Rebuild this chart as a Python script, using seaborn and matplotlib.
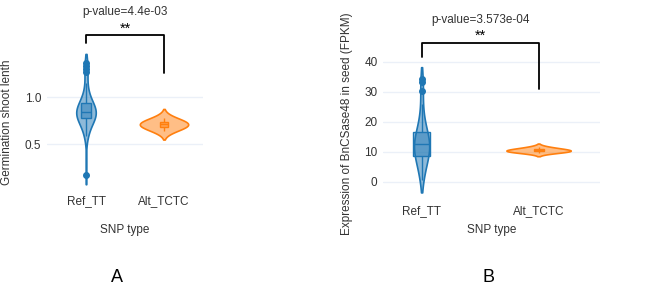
import pandas as pd
import seaborn as sns
import matplotlib.pyplot as plt
import matplotlib.transforms as mtransforms
from matplotlib.colors import to_rgba

groups = ["Ref_TT", "Alt_TCTC"]
colors = ["#1f77b4", "#ff7f0e"]

# panel A - germination shoot length
shoot_ref = [0.17, 0.58, 0.61, 0.64, 0.68, 0.70, 0.72, 0.74, 0.76, 0.77, 0.78,
             0.78, 0.79, 0.80, 0.80, 0.81, 0.81, 0.82, 0.82, 0.83, 0.83, 0.84,
             0.84, 0.85, 0.85, 0.86, 0.87, 0.88, 0.89, 0.90, 0.91, 0.92, 0.93,
             0.94, 0.95, 0.97, 1.00, 1.04, 1.10, 1.15, 1.27, 1.30, 1.33, 1.36]
shoot_alt = [0.64, 0.67, 0.70, 0.71, 0.72, 0.74, 0.78]

# panel B - expression in seed (FPKM)
expr_ref = [0.5, 2, 3.5, 5, 6, 7, 7.5, 8, 8.5, 9, 9.5, 10, 10.5, 11, 11.5, 12,
            12, 12.5, 13, 13.5, 14, 14.5, 15, 15.5, 16, 16.5, 17, 18, 19.5, 21,
            23, 26, 30.3, 33.2, 34.3]
expr_alt = [9.8, 10.1, 10.3, 10.5, 10.7, 11.0, 11.6]

pvals = ["p-value=4.4e-03", "p-value=3.573e-04"]
stars = "**"
ylabels = ["Germination shoot lenth", "Expression of BnCSase48 in seed (FPKM)"]
yticks_a = [0.5, 1.0]
yticks_b = [0, 10, 20, 30, 40]

sns.set_theme(style="white")
plt.rcParams["font.family"] = ["Liberation Sans", "DejaVu Sans"]
txt = "#333333"


def draw_panel(ax, ref, alt, vwidths, bwidths, bw_adj, cuts):
    df = pd.DataFrame({"snp": [groups[0]] * len(ref) + [groups[1]] * len(alt),
                       "val": list(ref) + list(alt)})
    for i, g in enumerate(groups):
        c = colors[i]
        sub = df[df.snp == g]
        sns.violinplot(data=sub, x="snp", y="val", order=groups, color=c,
                       linecolor=c, width=vwidths[i], density_norm="width",
                       cut=cuts[i], bw_adjust=bw_adj[i], inner=None,
                       linewidth=1.2, saturation=1, ax=ax)
        ax.collections[-1].set_facecolor(to_rgba(c, 0.5))
        n0 = len(ax.patches)
        sns.boxplot(data=sub, x="snp", y="val", order=groups, width=bwidths[i],
                    color=c, linecolor=c, linewidth=1, showcaps=False,
                    fliersize=4, saturation=1,
                    flierprops=dict(marker="o", markerfacecolor=c,
                                    markeredgecolor=c), ax=ax)
        for p in ax.patches[n0:]:
            p.set_facecolor(to_rgba(c, 0.45))
            p.set_edgecolor(c)


def style_axis(ax, yticks, ylabel):
    sns.despine(ax=ax, left=True, bottom=True)
    ax.set_yticks(yticks)
    ax.grid(axis="y", color="#EBF0F8", lw=1)
    ax.grid(axis="x", visible=False)
    ax.tick_params(length=0, labelsize=8.5, labelcolor=txt, pad=4)
    ax.set_xlabel("SNP type", fontsize=8.5, color=txt)
    ax.set_ylabel(ylabel, fontsize=8.5, color=txt)


def bracket(ax, ptxt, y_left, y_right, y_top, y_star, y_p):
    tr = mtransforms.blended_transform_factory(ax.transData, ax.transAxes)
    ax.plot([0, 0, 1, 1], [y_left, y_top, y_top, y_right], transform=tr,
            color="black", lw=1.3, clip_on=False)
    ax.text(0.5, y_star, stars, transform=tr, ha="center", va="baseline",
            fontsize=10.5, color="black")
    ax.text(0.5, y_p, ptxt, transform=tr, ha="center", va="center",
            fontsize=8.5, color=txt)


W, H = 669, 286
fig = plt.figure(figsize=(W / 100, H / 100), dpi=100)
axA = fig.add_axes([47 / W, 1 - 190 / H, (203 - 47) / W, (190 - 45) / H])
axB = fig.add_axes([383 / W, 1 - 200 / H, (600 - 383) / W, (200 - 40) / H])

draw_panel(axA, shoot_ref, shoot_alt, [0.25, 0.62], [0.13, 0.115],
           [1.0, 1.5], [1, 2])
style_axis(axA, yticks_a, ylabels[0])
axA.set_xlim(-0.5, 1.5)
axA.set_ylim(0.011, 1.553)
axA.xaxis.set_label_coords(0.5, -0.234)
axA.yaxis.set_label_coords(-0.22, 0.469)
bracket(axA, pvals[0], 1.014, 0.804, 1.07, 1.083, 1.228)

draw_panel(axB, expr_ref, expr_alt, [0.13, 0.55], [0.145, 0.085],
           [1.0, 1.5], [1, 2])
style_axis(axB, yticks_b, ylabels[1])
axB.set_xlim(-0.33, 1.525)
axB.set_ylim(-6.0, 47.33)
axB.xaxis.set_label_coords(0.5, -0.15)
axB.yaxis.set_label_coords(-0.138, 0.48)
bracket(axB, pvals[1], 0.892, 0.696, 0.981, 1.0, 1.127)

fig.text(117 / W, 1 - 278 / H, "A", ha="center", va="center", fontsize=13,
         color="black")
fig.text(488 / W, 1 - 278 / H, "B", ha="center", va="center", fontsize=13,
         color="black")

fig.savefig("out.png", dpi=100, facecolor="white")
